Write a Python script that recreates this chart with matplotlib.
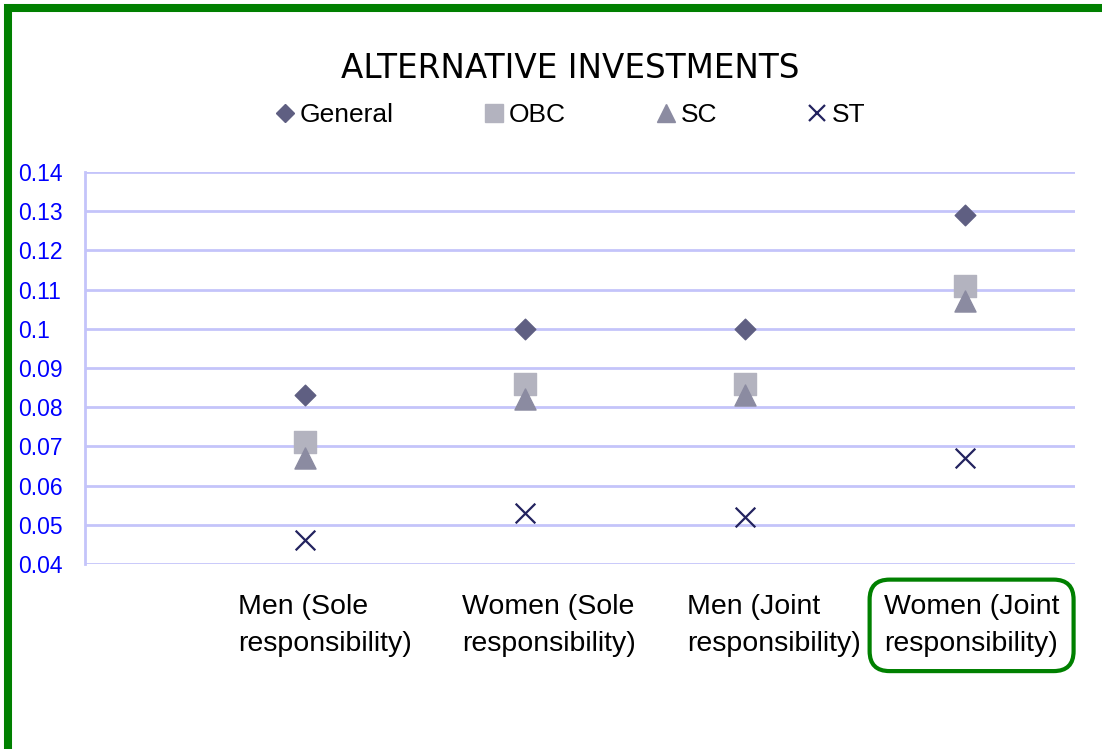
import matplotlib.pyplot as plt
from matplotlib.patches import Rectangle
from matplotlib.lines import Line2D

categories = ["Men (Sole\nresponsibility)", "Women (Sole\nresponsibility)",
              "Men (Joint\nresponsibility)", "Women (Joint\nresponsibility)"]
x_pos = [1, 2, 3, 4]
label_pos = [1.09, 2.11, 3.13, 4.03]

general = [0.083, 0.100, 0.100, 0.129]
obc = [0.071, 0.086, 0.086, 0.111]
sc = [0.067, 0.082, 0.083, 0.107]
st = [0.046, 0.053, 0.052, 0.067]

y_ticks = [0.04, 0.05, 0.06, 0.07, 0.08, 0.09, 0.1, 0.11, 0.12, 0.13, 0.14]
y_labels = ["0.04", "0.05", "0.06", "0.07", "0.08", "0.09", "0.1",
            "0.11", "0.12", "0.13", "0.14"]

plt.rcParams['font.family'] = ['Liberation Sans', 'DejaVu Sans']

W, H = 1102, 749
fig = plt.figure(figsize=(W / 100, H / 100), dpi=100)
ax = fig.add_axes([85 / W, 1 - 564 / H, (1075 - 85) / W, (564 - 172) / H])

grid_col = "#C4C4FA"
ax.scatter(x_pos, general, marker="D", s=110, color="#5F5F82", zorder=3)
ax.scatter(x_pos, obc, marker="s", s=230, color="#B3B3BF", zorder=3)
ax.scatter(x_pos, sc, marker="^", s=230, color="#8B8BA1", zorder=4)
ax.scatter(x_pos, st, marker="x", s=200, color="#23235F", linewidths=1.6, zorder=3)

ax.set_xlim(0, 4.5)
ax.set_ylim(0.04, 0.14)
ax.set_yticks(y_ticks)
ax.set_yticklabels(y_labels, color="blue", fontsize=16.5, ha="left")
ax.tick_params(axis="y", length=0, pad=48)
ax.yaxis.grid(True, color=grid_col, linewidth=2)
ax.set_axisbelow(True)

ax.set_xticks(label_pos)
ax.set_xticklabels(categories, fontsize=20.5, multialignment="left", linespacing=1.55)
ax.tick_params(axis="x", length=0, pad=21.5)
for s in ["top", "right", "bottom"]:
    ax.spines[s].set_visible(False)
ax.spines["left"].set_color(grid_col)
ax.spines["left"].set_linewidth(2)

last = ax.get_xticklabels()[-1]
last.set_bbox(dict(boxstyle="round,pad=0.5,rounding_size=0.7", fc="white",
                   ec="#008000", lw=3))

fig.text(570 / W, 1 - 68 / H, "ALTERNATIVE INVESTMENTS", ha="center", va="center",
         fontsize=23.5, family="DejaVu Sans")

handles = [
    Line2D([], [], ls="", marker="D", ms=9, color="#5F5F82"),
    Line2D([], [], ls="", marker="s", ms=13, color="#B3B3BF"),
    Line2D([], [], ls="", marker="^", ms=13, color="#8B8BA1"),
    Line2D([], [], ls="", marker="x", ms=12, mew=1.6, color="#23235F"),
]
fig.legend(handles, ["General", "OBC", "SC", "ST"], loc="center",
           bbox_to_anchor=(570 / W, 1 - 115 / H), ncol=4, frameon=False,
           fontsize=19, handlelength=0.8, handletextpad=0.15, columnspacing=3.4)

fig.patches.append(Rectangle((8 / W, -0.02), 1.1, 1 - 7.5 / H + 0.02,
                             transform=fig.transFigure, fill=False,
                             ec="#008000", lw=5.8, clip_on=False))

fig.savefig("out.png", dpi=100)
